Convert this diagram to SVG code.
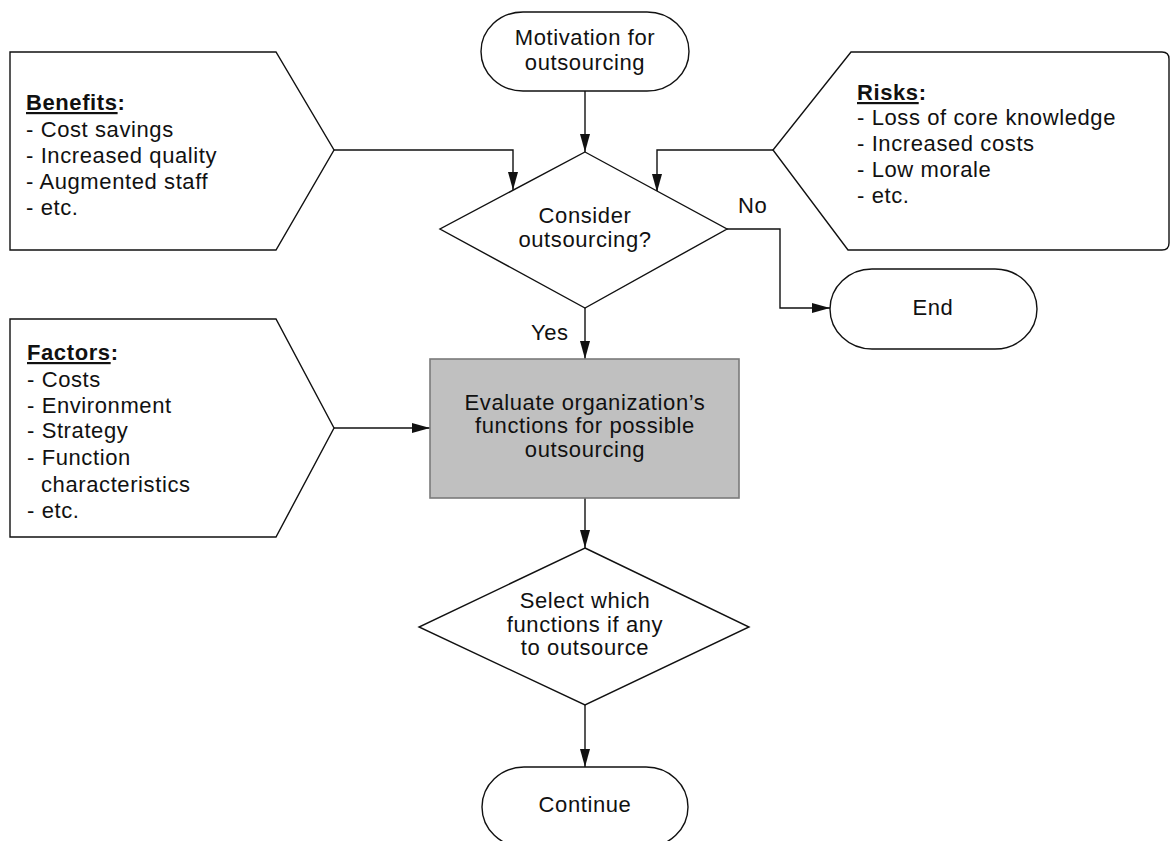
<svg xmlns="http://www.w3.org/2000/svg" width="1171" height="841" viewBox="0 0 1171 841">
<defs>
<style>
.s{fill:#fff;stroke:#111;stroke-width:1.4}
.p{fill:#c0c0c0;stroke:#7a7a7a;stroke-width:1.6}
.t{font-family:"Liberation Sans",Arial,sans-serif;font-size:22px;letter-spacing:0.6px;fill:#111}
.c{text-anchor:middle}
.h{font-weight:bold}
.u{text-decoration:underline}
.ln{fill:none;stroke:#111;stroke-width:1.4}
</style>
<marker id="ah" markerWidth="18" markerHeight="10" refX="18" refY="5" orient="auto" markerUnits="userSpaceOnUse">
<path d="M0,0 L18,5 L0,10 Z" fill="#111"/>
</marker>
</defs>
<rect width="1171" height="841" fill="#fff"/>

<g id="connectors">
<path class="ln" d="M585,91 V152" marker-end="url(#ah)"/>
<path class="ln" d="M334,150 H513 V190" marker-end="url(#ah)"/>
<path class="ln" d="M773,150 H657 V192" marker-end="url(#ah)"/>
<path class="ln" d="M727,229 H780 V308 H830" marker-end="url(#ah)"/>
<text class="t" x="738" y="213">No</text>
<path class="ln" d="M585,308 V359" marker-end="url(#ah)"/>
<text class="t" x="531" y="340">Yes</text>
<path class="ln" d="M334,428 H430" marker-end="url(#ah)"/>
<path class="ln" d="M585,498 V548" marker-end="url(#ah)"/>
<path class="ln" d="M585,705 V767" marker-end="url(#ah)"/>
</g>

<g id="motivation">
<rect class="s" x="481" y="12" width="208" height="79" rx="42" ry="39.5"/>
<text class="t c" x="585" y="45">Motivation for</text>
<text class="t c" x="585" y="70">outsourcing</text>
</g>

<g id="benefits">
<path class="s" d="M10,52 H276 L334,150 L276,250 H10 Z"/>
<text class="t" x="26" y="110"><tspan class="h u">Benefits</tspan><tspan class="h">:</tspan></text>
<text class="t" x="26" y="137">- Cost savings</text>
<text class="t" x="26" y="163">- Increased quality</text>
<text class="t" x="26" y="189">- Augmented staff</text>
<text class="t" x="26" y="215">- etc.</text>
</g>

<g id="risks">
<path class="s" d="M851,52 H1162 Q1169,52 1169,59 V243 Q1169,250 1162,250 H848 L773,150 Z"/>
<text class="t" x="857" y="100"><tspan class="h u">Risks</tspan><tspan class="h">:</tspan></text>
<text class="t" x="857" y="125">- Loss of core knowledge</text>
<text class="t" x="857" y="151">- Increased costs</text>
<text class="t" x="857" y="177">- Low morale</text>
<text class="t" x="857" y="203">- etc.</text>
</g>

<g id="consider">
<path class="s" d="M585,152 L727,229 L585,308 L440,229 Z"/>
<text class="t c" x="585" y="223">Consider</text>
<text class="t c" x="585" y="247">outsourcing?</text>
</g>

<g id="end">
<rect class="s" x="830" y="269" width="207" height="80" rx="42" ry="40"/>
<text class="t c" x="933" y="315">End</text>
</g>

<g id="factors">
<path class="s" d="M10,319 H276 L334,428 L276,537 H10 Z"/>
<text class="t" x="27" y="360"><tspan class="h u">Factors</tspan><tspan class="h">:</tspan></text>
<text class="t" x="27" y="387">- Costs</text>
<text class="t" x="27" y="413">- Environment</text>
<text class="t" x="27" y="438">- Strategy</text>
<text class="t" x="27" y="465">- Function</text>
<text class="t" x="41" y="492">characteristics</text>
<text class="t" x="27" y="518">- etc.</text>
</g>

<g id="evaluate">
<rect class="p" x="430" y="359" width="309" height="139"/>
<text class="t c" x="585" y="410">Evaluate organization’s</text>
<text class="t c" x="585" y="433">functions for possible</text>
<text class="t c" x="585" y="457">outsourcing</text>
</g>

<g id="select">
<path class="s" d="M585,548 L749,627 L585,705 L419,627 Z"/>
<text class="t c" x="585" y="608">Select which</text>
<text class="t c" x="585" y="632">functions if any</text>
<text class="t c" x="585" y="655">to outsource</text>
</g>

<g id="continue">
<rect class="s" x="482" y="767" width="206" height="80" rx="42" ry="40"/>
<text class="t c" x="585" y="812">Continue</text>
</g>
</svg>
